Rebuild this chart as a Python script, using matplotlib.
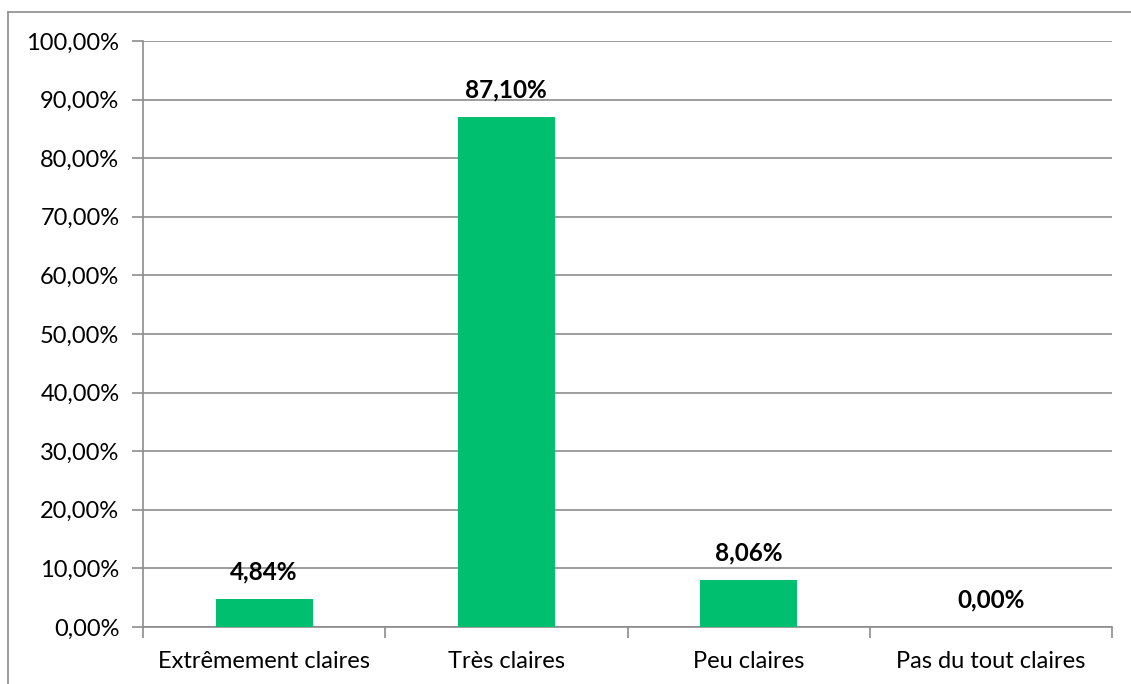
import matplotlib.pyplot as plt
from matplotlib.ticker import FuncFormatter

# Categories and percentages
categories = ["Extrêmement claires", "Très claires", "Peu claires", "Pas du tout claires"]
values = [4.84, 87.10, 8.06, 0.00]
y_ticks = [0, 10, 20, 30, 40, 50, 60, 70, 80, 90, 100]

plt.rcParams['font.family'] = ['Lato', 'DejaVu Sans']

fig = plt.figure(figsize=(11.31, 6.84), dpi=100)
ax = fig.add_axes([143 / 1131, 1 - 627 / 684, (1112 - 143) / 1131, (627 - 41) / 684])

grey = '#8c8c8c'
x = range(len(categories))
ax.bar(x, values, width=0.4, color='#00BF6F', zorder=3)

for xi, v in zip(x, values):
    ax.annotate(f"{v:.2f}%".replace('.', ','), (xi, v), xytext=(0, 11), textcoords='offset points',
                ha='center', va='bottom', fontsize=17.5, fontweight='bold')

ax.set_xlim(-0.5, len(categories) - 0.5)
ax.set_ylim(0, 100)
ax.set_yticks(y_ticks)
ax.yaxis.set_major_formatter(FuncFormatter(lambda v, p: f"{v:.2f}%".replace('.', ',')))
ax.set_xticks(list(x))
ax.set_xticklabels(categories)
ax.set_xticks([i - 0.5 for i in range(len(categories) + 1)], minor=True)

ax.grid(axis='y', color=grey, linewidth=1.2, zorder=0)
for s in ['top', 'right']:
    ax.spines[s].set_visible(False)
for s in ['left', 'bottom']:
    ax.spines[s].set_color(grey)
    ax.spines[s].set_linewidth(1.2)

ax.tick_params(axis='y', length=8, color=grey, width=1.2, labelsize=17, pad=9)
ax.tick_params(axis='x', which='major', length=0, labelsize=17, pad=17)
ax.tick_params(axis='x', which='minor', length=8, color=grey, width=1.2)

# outer chart border (top and left visible)
fig.add_artist(plt.Line2D([8 / 1131, 8 / 1131], [0, 1 - 12 / 684], color=grey, linewidth=1.2))
fig.add_artist(plt.Line2D([8 / 1131, 1], [1 - 12 / 684, 1 - 12 / 684], color=grey, linewidth=1.2))

fig.savefig('out.png', dpi=100)
